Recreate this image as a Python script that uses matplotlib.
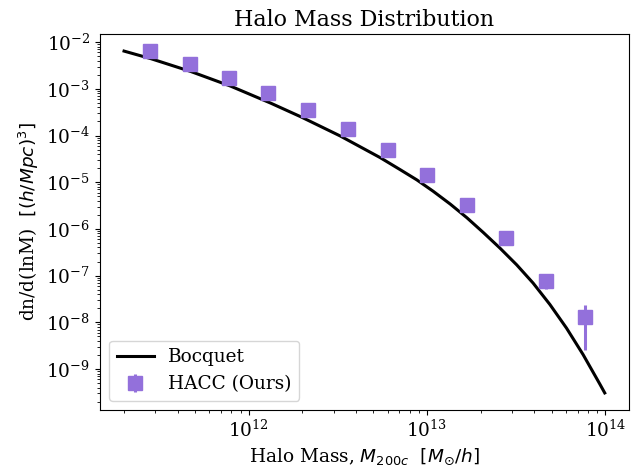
import numpy as np
import matplotlib
matplotlib.use("Agg")
import matplotlib.pyplot as plt

plt.rcParams["font.family"] = "serif"
plt.rcParams["font.size"] = 13.3

# Bocquet mass function
boc_mass = [2.00e11, 2.82e11, 4.72e11, 7.90e11, 1.32e12, 1.95e12, 3.26e12, 5.46e12,
            7.06e12, 8.76e12, 1.08e13, 1.35e13, 1.67e13, 2.07e13, 2.56e13, 3.18e13,
            3.93e13, 4.88e13, 6.05e13, 7.49e13, 9.29e13, 9.91e13]
boc_dndlnm = [6.43e-3, 4.44e-3, 2.36e-3, 1.146e-3, 4.99e-4, 2.54e-4, 9.77e-5, 3.36e-5,
              1.86e-5, 1.122e-5, 6.43e-6, 3.39e-6, 1.74e-6, 8.32e-7, 3.89e-7, 1.70e-7,
              6.92e-8, 2.41e-8, 7.50e-9, 2.04e-9, 4.79e-10, 3.07e-10]

# HACC halo counts
hacc_mass = [2.79e11, 4.66e11, 7.77e11, 1.29e12, 2.16e12, 3.59e12,
             6.00e12, 9.95e12, 1.67e13, 2.78e13, 4.63e13, 7.73e13]
hacc_dndlnm = [6.42e-3, 3.45e-3, 1.70e-3, 8.11e-4, 3.58e-4, 1.41e-4,
               4.90e-5, 1.43e-5, 3.33e-6, 6.25e-7, 7.74e-8, 1.32e-8]
hacc_err = [1.5e-5, 1.0e-5, 6.0e-6, 4.0e-6, 2.5e-6, 1.5e-6,
            8.0e-7, 4.0e-7, 1.8e-7, 7.0e-8, 2.6e-8, 1.07e-8]

fig, ax = plt.subplots(figsize=(6.39, 4.68), dpi=100)
ax.plot(boc_mass, boc_dndlnm, color="black", lw=2.2, label="Bocquet")
ax.errorbar(hacc_mass, hacc_dndlnm, yerr=hacc_err, fmt="s", color="mediumpurple",
            ms=9.5, elinewidth=2.2, label="HACC (Ours)")
ax.set_xscale("log")
ax.set_yscale("log")
ax.set_xlabel(r"Halo Mass, $M_{200c}$  $[M_{\odot}/h]$")
ax.set_ylabel(r"dn/d(lnM)  $[(h/Mpc)^3]$")
ax.set_title("Halo Mass Distribution")
ax.legend(loc="lower left")
fig.subplots_adjust(left=0.1565, right=0.984, top=0.9274, bottom=0.1239)
fig.savefig("out.png", dpi=100)
